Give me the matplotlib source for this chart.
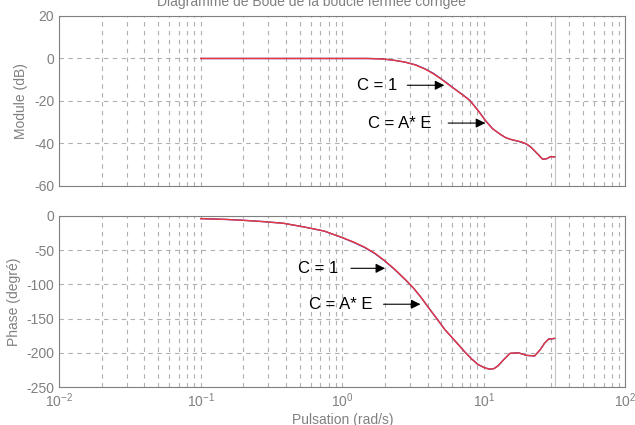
import matplotlib
matplotlib.use("Agg")
import matplotlib.pyplot as plt
import numpy as np

plt.rcParams["font.family"] = ["Liberation Sans", "DejaVu Sans"]
plt.rcParams["axes.unicode_minus"] = False
plt.rcParams["mathtext.fontset"] = "custom"
plt.rcParams["mathtext.rm"] = "Liberation Sans"
plt.rcParams["mathtext.it"] = "Liberation Sans:italic"

# pulsation (rad/s)
w_mod = [0.1, 0.3, 0.6, 1.0, 1.5, 1.9, 2.3, 2.77, 3.3, 3.85, 4.4, 5.0, 5.5, 6.1, 7.0, 7.94, 9.0, 10.3,
         11.5, 13.0, 14.2, 15.3, 17.0, 18.7, 20.0, 21.5, 22.8, 24.5, 26.0, 27.7, 29.6, 31.6]
mod_c1 = [0, 0, 0, 0, 0, -0.2, -0.8, -1.7, -3.0, -4.9, -7.0, -9.6, -11.6, -13.9, -16.8, -19.6, -24.0, -29.3,
          -33.0, -35.6, -37.2, -38.0, -38.8, -39.5, -40.3, -41.8, -43.5, -45.6, -47.4, -47.2, -46.2, -46.3]
mod_ae = [0, 0, 0, 0, 0, -0.2, -0.8, -1.7, -3.1, -5.0, -7.2, -9.7, -11.8, -14.0, -16.9, -19.7, -24.1, -29.4,
          -33.0, -35.6, -37.2, -38.0, -38.7, -39.4, -40.2, -41.7, -43.4, -45.6, -47.4, -47.2, -46.2, -46.3]

w_ph = [0.1, 0.15, 0.2, 0.28, 0.385, 0.536, 0.744, 1.0, 1.2, 1.436, 1.7, 1.995, 2.35, 2.77, 3.2, 3.6, 4.1,
        4.69, 5.3, 6.1, 6.8, 7.43, 8.2, 9.05, 10.0, 11.0, 11.8, 12.6, 13.8, 15.3, 17.5, 20.0, 22.8, 25.1,
        26.8, 28.6, 31.6]
ph_c1 = [-3.9, -5.0, -6.3, -8.3, -10.7, -16.0, -22.0, -31.7, -38.5, -46.0, -55.0, -65.8, -78.5, -92.6,
         -106.0, -119.0, -135.0, -151.0, -166.0, -180.0, -191.0, -200.0, -209.0, -216.8, -221.5, -224.0,
         -223.0, -219.0, -210.0, -200.8, -200.0, -203.7, -204.7, -195.0, -186.0, -180.0, -179.0]
ph_ae = [-3.9, -5.0, -6.3, -8.3, -10.7, -16.0, -22.0, -31.5, -38.0, -45.5, -54.5, -65.3, -78.0, -92.2,
         -105.8, -119.0, -135.0, -151.0, -166.0, -180.0, -191.0, -200.0, -209.0, -216.8, -221.5, -224.0,
         -223.0, -219.0, -210.0, -200.8, -200.0, -203.7, -204.7, -195.0, -186.0, -180.0, -179.0]

mod_ticks = [20, 0, -20, -40, -60]
ph_ticks = [0, -50, -100, -150, -200, -250]

gray = "#808080"

fig = plt.figure(figsize=(6.35, 4.25), dpi=100)
ax1 = fig.add_axes([0.093, 0.5624, 0.892, 0.400])
ax2 = fig.add_axes([0.093, 0.0894, 0.892, 0.4024])


def style(ax):
    ax.set_xscale("log")
    ax.set_xlim(1e-2, 1e2)
    ax.grid(True, which="major", linestyle=(0, (4, 4)), color="#b0b0b0", linewidth=0.8)
    ax.grid(True, which="minor", axis="x", linestyle=(0, (4, 4)), color="#b0b0b0", linewidth=0.8)
    for s in ax.spines.values():
        s.set_color(gray)
    ax.tick_params(which="both", direction="in", colors=gray, labelsize=10, length=0)
    ax.axvline(w_mod[-1], color="#c8c8c8", linewidth=0.9)


style(ax1)
ax1.plot(w_mod, mod_c1, color="#4a3cc8", linewidth=1.0)
ax1.plot(w_mod, mod_ae, color="#e8383c", linewidth=1.0)
ax1.set_ylim(-60, 20)
ax1.set_yticks(mod_ticks)
ax1.set_xticklabels([])
ax1.set_ylabel("Module (dB)", color=gray, fontsize=10)
ax1.annotate("", xy=(5.5, -12.6), xytext=(2.75, -12.6),
             arrowprops=dict(arrowstyle="-|>", color="black", lw=0.8, mutation_scale=14))
ax1.text(1.75, -12.6, "C = 1", fontsize=12, ha="center", va="center")
ax1.annotate("", xy=(10.7, -30.4), xytext=(5.35, -30.4),
             arrowprops=dict(arrowstyle="-|>", color="black", lw=0.8, mutation_scale=14))
ax1.text(2.55, -30.4, "C = A* E", fontsize=12, ha="center", va="center")

style(ax2)
ax2.plot(w_ph, ph_c1, color="#4a3cc8", linewidth=1.0)
ax2.plot(w_ph, ph_ae, color="#e8383c", linewidth=1.0)
ax2.set_ylim(-250, 0)
ax2.set_yticks(ph_ticks)
ax2.set_ylabel("Phase (degré)", color=gray, fontsize=10)
ax2.set_xlabel("Pulsation (rad/s)", color=gray, fontsize=10, labelpad=2)
ax2.annotate("", xy=(2.1, -76.5), xytext=(1.1, -76.5),
             arrowprops=dict(arrowstyle="-|>", color="black", lw=0.8, mutation_scale=14))
ax2.text(0.68, -76.5, "C = 1", fontsize=12, ha="center", va="center")
ax2.annotate("", xy=(3.73, -129), xytext=(1.87, -129),
             arrowprops=dict(arrowstyle="-|>", color="black", lw=0.8, mutation_scale=14))
ax2.text(0.98, -129, "C = A* E", fontsize=12, ha="center", va="center")

fig.text(0.49, 1.0 - 2 / 425, "Diagramme de Bode de la boucle fermée corrigée",
         ha="center", va="center", color=gray, fontsize=10)

fig.savefig("out.png", dpi=100)
